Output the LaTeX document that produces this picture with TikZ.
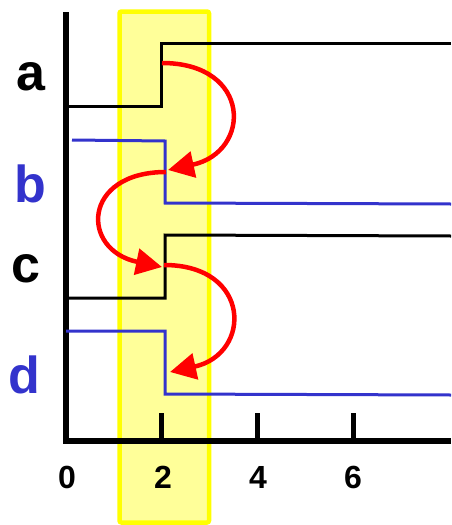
\documentclass[tikz,border=0pt]{standalone}
\usepackage{fontspec}
\setmainfont{Liberation Sans}
\usetikzlibrary{arrows.meta}
\definecolor{sigblue}{HTML}{3333CC}
\definecolor{bandfill}{HTML}{FFFF99}
\definecolor{bandedge}{HTML}{FFFF00}
\definecolor{flowred}{HTML}{FF0000}
\begin{document}
\begin{tikzpicture}[x=1pt,y=-1pt,
  axis/.style={line width=6pt,black},
  tick/.style={line width=5pt,black},
  sigblack/.style={line width=3pt,black,line join=miter},
  sigb/.style={line width=3pt,sigblue,line join=miter},
  flow/.style={line width=4.5pt,flowred,-{Triangle[length=26pt,width=26pt]}},
  letter/.style={font=\fontsize{52}{60}\selectfont\bfseries,anchor=base},
  num/.style={font=\fontsize{32}{38}\selectfont\bfseries,anchor=base}]
\useasboundingbox (0,0) rectangle (451,525);

% highlighted band around t = 2
\draw[line width=4.5pt,bandedge,fill=bandfill,rounded corners=2pt]
  (119.5,11.5) rectangle (209,522.5);

% axes
\coordinate (origin) at (66,441);
\coordinate (ytop) at (66,12);
\coordinate (xend) at (451,441);
\draw[axis] (ytop) -- (origin);
\draw[axis] ([xshift=-3pt]origin) -- (xend);

% ticks and tick labels
\foreach \name/\x in {t2/161, t4/257, t6/353}{
  \coordinate (\name) at (\x,441);
  \draw[tick] (\name) -- ++(0,-28);
}
\node[num] (n0) at (67,488) {0};
\node[num] (n2) at (163,488) {2};
\node[num] (n4) at (258,488) {4};
\node[num] (n6) at (353,488) {6};

% signal a
\draw[sigblack] (66,106) -- (161,106) -- (161,43) -- (451,43);
% signal b
\draw[sigb] (72,140) -- (165,141) -- (165,203) -- (451,204);
% signal c
\draw[sigblack] (66,298) -- (165,298) -- (165,235) -- (451,236);
% signal d
\draw[sigb] (66,331) -- (165,331) -- (165,394) -- (451,395);

% labels
\node[letter] (la) at (31,90) {a};
\node[letter,text=sigblue] (lb) at (30,202) {b};
\node[letter] (lc) at (26,282) {c};
\node[letter,text=sigblue] (ld) at (24,393) {d};

% propagation arrows
\coordinate (a1) at (162,63);
\coordinate (b1) at (168,170);
\coordinate (b2) at (166,172);
\coordinate (c1) at (162,267);
\coordinate (c2) at (164,265);
\coordinate (d1) at (170,372);
\draw[flow] (a1) .. controls (252,63) and (252,152) .. (b1);
\draw[flow] (b2) .. controls (82,172) and (80,250) .. (c1);
\draw[flow] (c2) .. controls (252,265) and (252,354) .. (d1);
\end{tikzpicture}
\end{document}
